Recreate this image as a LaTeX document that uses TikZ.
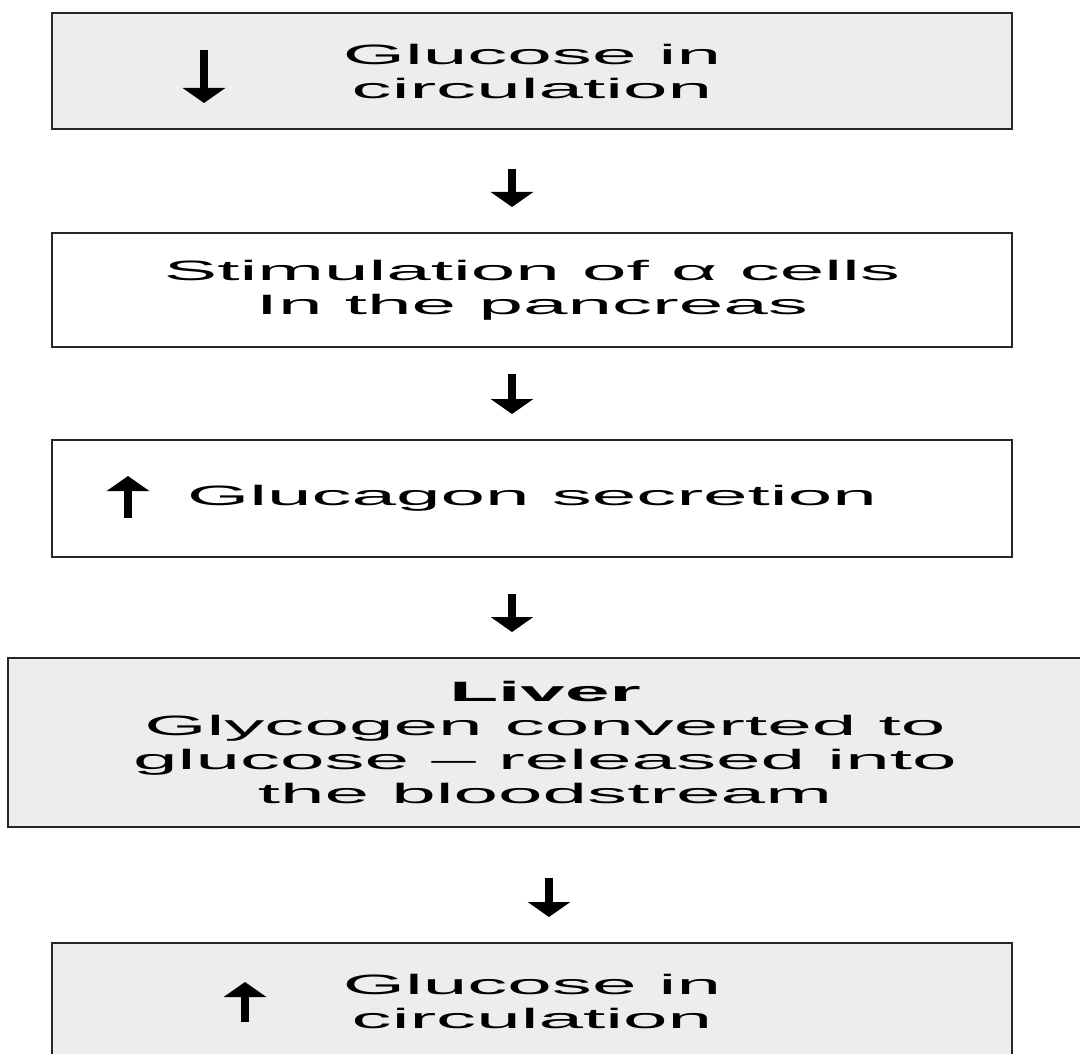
\documentclass[tikz,border=0pt]{standalone}
\usepackage{fontspec}
\newfontfamily\widesans{Liberation Sans}[FakeStretch=2.86]
\usepackage{tikz}
\usetikzlibrary{arrows.meta}

\begin{document}
\begin{tikzpicture}[x=1pt,y=-1pt]
    \tikzset{
    block/.style={
        draw=black!85,
        line width=2pt,
        minimum width=960pt,
        minimum height=116pt,
        inner sep=0pt,
        align=center,
        font=\widesans\fontsize{28}{34}\selectfont
    },
    shaded/.style={
        fill=black!7
    },
    sign/.style={
        line width=8pt,
        -{Triangle[width=42pt,length=15pt]}
    },
    flow/.style={
        sign,
        shorten >=25pt
    }
}
    \useasboundingbox (0,0) rectangle (1080,1054);
    \clip (0,0) rectangle (1080,1054);
    \coordinate (Axis) at (512,0);
    \coordinate (LiverAxis) at (549,0);

        \node[block, shaded] (Low) at (532,71) {Glucose in\\circulation};

        \node[block, minimum height=114pt] (Alpha) at (532,290) {Stimulation of α cells\\In the pancreas};

        \node[block, minimum height=117pt] (Glucagon) at (532,498.5) {Glucagon secretion};

        \node[block, shaded, minimum width=1074pt, minimum height=169pt] (Liver) at (545,742.5) {\textbf{Liver}\\Glycogen converted to\\glucose – released into\\the bloodstream};

        \node[block, shaded] (High) at (532,1001) {Glucose in\\circulation};

        \draw[sign] (204,50) -- (204,103);
        \draw[sign] (128,518) -- (128,476);
        \draw[sign] (245,1022) -- (245,982);

        \draw[flow, shorten <=39pt] (Low.south -| Axis) -- (Alpha.north -| Axis);
        \draw[flow, shorten <=26pt] (Alpha.south -| Axis) -- (Glucagon.north -| Axis);
        \draw[flow, shorten <=36pt] (Glucagon.south -| Axis) -- (Liver.north -| Axis);
        \draw[flow, shorten <=50pt] (Liver.south -| LiverAxis) -- (High.north -| LiverAxis);
    \end{tikzpicture}
\end{document}
